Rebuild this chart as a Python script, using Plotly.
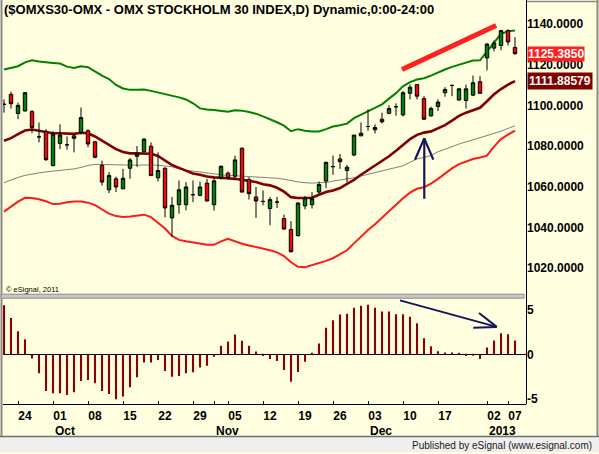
import plotly.graph_objects as go

W, H = 599, 454
BG = "#FFFFE0"
FONT = "Liberation Sans, Arial, sans-serif"

# ---------------- data ----------------
opens = [1100.5, 1105.4, 1096.0, 1097.2, 1096.9, 1084.5, 1087.2, 1070.4, 1081.3, 1080.6,
         1085.0, 1086.7, 1087.5, 1082.1, 1070.4, 1058.5, 1063.9, 1059.0, 1069.1, 1075.0,
         1077.2, 1079.9, 1064.4, 1069.1, 1044.7, 1051.2, 1051.2, 1056.1, 1055.8, 1061.8,
         1051.2, 1064.4, 1066.7, 1065.2, 1078.9, 1063.6, 1055.0, 1052.8, 1049.3, 1052.5,
         1044.4, 1039.0, 1036.0, 1050.6, 1051.2, 1057.4, 1062.8, 1069.9, 1073.7, 1068.0,
         1075.6, 1085.0, 1089.6, 1088.0, 1093.2, 1096.1, 1099.3, 1095.3, 1105.9, 1110.2,
         1103.3, 1094.8, 1099.4, 1106.2, 1109.8, 1102.6, 1102.4, 1105.0, 1111.6, 1123.3,
         1128.1, 1129.4, 1136.7, 1128.4]
highs = [1102.9, 1106.7, 1101.3, 1106.5, 1097.7, 1091.6, 1088.3, 1087.2, 1090.7, 1084.7,
         1086.3, 1098.9, 1088.3, 1082.6, 1072.8, 1067.2, 1065.0, 1068.8, 1074.1, 1080.0,
         1083.9, 1081.8, 1076.9, 1069.6, 1055.0, 1063.1, 1062.3, 1063.1, 1062.6, 1063.9,
         1064.2, 1070.4, 1067.5, 1075.3, 1079.4, 1064.7, 1059.9, 1058.2, 1055.0, 1055.0,
         1046.3, 1043.1, 1052.5, 1055.5, 1057.4, 1062.6, 1072.3, 1075.3, 1076.1, 1070.7,
         1085.4, 1091.6, 1098.0, 1090.7, 1096.4, 1100.0, 1101.0, 1107.0, 1110.2, 1110.5,
         1104.5, 1099.4, 1102.9, 1108.9, 1109.9, 1108.6, 1110.2, 1114.6, 1114.3, 1130.6,
         1131.9, 1137.1, 1137.4, 1133.5]
lows = [1096.4, 1098.4, 1093.2, 1097.0, 1086.3, 1081.8, 1072.7, 1070.0, 1078.5, 1078.2,
        1076.9, 1085.9, 1079.4, 1074.0, 1060.6, 1056.9, 1057.4, 1058.8, 1063.9, 1069.8,
        1076.9, 1065.3, 1062.6, 1045.0, 1035.5, 1046.8, 1048.4, 1052.5, 1055.3, 1052.8,
        1048.3, 1063.6, 1063.6, 1064.2, 1057.2, 1053.7, 1044.7, 1050.9, 1041.1, 1049.6,
        1039.0, 1027.8, 1035.5, 1048.9, 1049.3, 1056.6, 1059.4, 1065.9, 1068.8, 1062.3,
        1075.0, 1085.0, 1087.5, 1086.2, 1091.1, 1095.6, 1094.9, 1094.5, 1102.9, 1102.9,
        1092.8, 1094.5, 1097.2, 1104.2, 1104.5, 1102.4, 1098.4, 1104.5, 1105.9, 1117.2,
        1126.5, 1127.0, 1129.4, 1124.9]
closes = [1100.5, 1100.8, 1100.0, 1106.2, 1089.1, 1084.5, 1073.3, 1085.9, 1085.4, 1080.6,
          1083.8, 1094.0, 1081.0, 1074.5, 1062.3, 1065.5, 1059.9, 1064.2, 1073.2, 1076.1,
          1083.4, 1065.5, 1068.0, 1049.6, 1050.9, 1058.5, 1059.9, 1056.1, 1059.9, 1053.0,
          1062.9, 1070.1, 1064.2, 1073.2, 1057.4, 1056.6, 1053.0, 1052.8, 1053.7, 1052.5,
          1039.2, 1028.1, 1052.0, 1054.5, 1054.1, 1061.1, 1072.0, 1069.9, 1072.3, 1069.6,
          1085.4, 1086.3, 1089.6, 1089.1, 1091.9, 1098.4, 1099.3, 1106.2, 1108.9, 1104.5,
          1093.2, 1098.5, 1101.6, 1107.8, 1109.8, 1108.1, 1108.1, 1111.1, 1105.9, 1130.1,
          1130.6, 1136.7, 1131.1, 1125.385]

upper_band = [1117.6, 1118.4, 1119.2, 1121.1, 1122.1, 1121.5, 1121.0, 1120.8, 1120.5, 1119.0,
              1118.4, 1119.2, 1118.7, 1116.6, 1114.6, 1112.9, 1110.0, 1108.3, 1107.6, 1107.6,
              1107.8, 1107.1, 1106.3, 1105.5, 1104.9, 1103.9, 1102.9, 1101.0, 1098.5, 1097.9,
              1097.7, 1097.4, 1096.9, 1097.6, 1097.4, 1096.7, 1095.9, 1094.6, 1093.2, 1091.7,
              1090.0, 1087.3, 1088.3, 1087.5, 1087.2, 1087.2, 1088.3, 1089.6, 1090.2, 1091.0,
              1093.7, 1095.4, 1097.3, 1098.9, 1100.5, 1103.3, 1106.0, 1109.3, 1111.4, 1112.7,
              1113.3, 1114.6, 1116.2, 1117.6, 1118.9, 1119.9, 1120.8, 1122.0, 1122.1, 1126.6,
              1131.2, 1135.1, 1136.4, 1136.7]
mid_band = [1082.6, 1083.9, 1085.9, 1087.6, 1088.1, 1087.6, 1087.0, 1086.3, 1086.3, 1086.2,
            1086.0, 1086.5, 1086.3, 1084.7, 1082.6, 1080.5, 1078.5, 1077.1, 1076.4, 1076.4,
            1076.4, 1076.2, 1075.1, 1072.9, 1070.7, 1069.3, 1067.8, 1066.5, 1065.9, 1065.0,
            1064.6, 1064.5, 1064.2, 1063.9, 1063.3, 1062.9, 1062.3, 1061.2, 1060.7, 1059.5,
            1057.6, 1054.9, 1054.5, 1054.5, 1054.6, 1056.1, 1057.4, 1058.2, 1059.4, 1061.4,
            1063.4, 1065.9, 1068.1, 1070.4, 1072.7, 1075.0, 1077.7, 1080.5, 1083.4, 1085.5,
            1086.6, 1087.2, 1088.7, 1090.3, 1092.5, 1094.8, 1096.4, 1097.7, 1098.8, 1102.0,
            1105.4, 1108.0, 1110.2, 1111.88579]
lower_band = [1047.8, 1050.2, 1052.7, 1054.6, 1054.5, 1053.9, 1052.9, 1051.5, 1051.7, 1052.4,
              1052.8, 1052.8, 1052.2, 1051.0, 1048.8, 1046.8, 1045.6, 1045.2, 1045.4, 1045.9,
              1046.3, 1045.1, 1042.4, 1039.5, 1035.9, 1033.9, 1033.2, 1032.7, 1032.2, 1031.5,
              1031.5, 1033.2, 1034.4, 1033.2, 1032.0, 1031.2, 1030.5, 1029.8, 1028.8, 1027.8,
              1026.0, 1022.9, 1020.7, 1020.5, 1021.5, 1022.3, 1023.6, 1024.9, 1026.8, 1028.8,
              1032.2, 1035.6, 1038.8, 1041.6, 1044.9, 1048.0, 1051.5, 1054.4, 1057.1, 1059.0,
              1059.8, 1061.6, 1063.9, 1066.6, 1069.0, 1071.1, 1072.4, 1073.6, 1074.4, 1075.3,
              1079.7, 1083.4, 1085.6, 1087.6]
slow_ma = [1062.0, 1063.4, 1064.6, 1065.6, 1066.3, 1066.8, 1067.3, 1067.7, 1068.0, 1068.3,
           1068.8, 1069.5, 1070.5, 1071.0, 1070.9, 1070.7, 1070.6, 1070.5, 1070.5, 1070.6,
           1070.7, 1070.7, 1070.6, 1070.2, 1069.8, 1068.8, 1068.0, 1067.7, 1067.2, 1066.8,
           1066.3, 1065.9, 1065.6, 1065.4, 1065.2, 1065.0, 1064.9, 1064.7, 1064.5, 1064.2,
           1063.7, 1062.9, 1062.4, 1062.0, 1061.8, 1062.0, 1062.1, 1062.8, 1063.3, 1063.7,
           1064.4, 1065.3, 1066.1, 1066.8, 1067.8, 1068.6, 1069.5, 1070.3, 1072.0, 1073.7,
           1074.4, 1075.4, 1077.2, 1078.3, 1079.7, 1081.0, 1082.0, 1082.9, 1084.0, 1085.1,
           1086.2, 1087.3, 1088.8, 1090.0]
osc = [5.56, 4.13, 2.63, 1.73, -0.45, -2.14, -4.13, -4.40, -4.40, -4.58,
       -4.28, -3.01, -2.89, -3.27, -4.13, -4.47, -5.07, -4.77, -3.72, -2.59,
       -0.90, -0.90, -0.64, -1.88, -2.52, -2.44, -2.14, -2.03, -1.47, -1.28,
       -0.26, 0.98, 1.47, 2.25, 1.54, 0.98, 0.34, -0.19, -0.53, -0.75,
       -1.77, -3.08, -2.00, -0.83, 0.11, 1.24, 3.01, 3.87, 4.51, 4.62,
       5.30, 5.52, 5.64, 5.30, 4.85, 4.85, 4.54, 4.54, 4.28, 3.53,
       1.84, 0.94, 0.37, 0.23, 0.23, 0.11, -0.19, -0.08, -0.53, 0.79,
       1.58, 2.40, 2.29, 1.58]

# axis ticks / labels (bar index positions)
day_tick_idx = [3, 8, 13, 18, 23, 28, 33, 38, 43, 48, 53, 58, 63, 70, 73]
day_tick_text = ["24", "01", "08", "15", "22", "29", "05", "12", "19", "26", "03", "10", "17", "02", "07"]
week_mark_idx = [2, 7, 12, 17, 22, 27, 30, 32, 37, 42, 47, 52, 57, 62, 69, 72]
month_idx = [8, 31, 53, 70]
month_text = ["Oct", "Nov", "Dec", "2013"]
price_ticks = [1020, 1040, 1060, 1080, 1100, 1120, 1140]
osc_ticks = [-5, 0, 5]

# drawn annotations (bar index, value)
trend_line = [(56.86, 1117.6), (70.3, 1139.2)]
up_arrow = [(60.04, 1054.1), (60.04, 1083.8), (58.71, 1073.3), (61.33, 1073.3)]
down_arrow = [(56.57, 6.12), (70.39, 3.12), (67.86, 4.70), (67.04, 3.01)]

# ---------------- geometry ----------------
def px_x(p):
    return p / W

def px_y(p):
    return 1 - p / H

x = list(range(len(closes)))
XR = [-1 / 7, 522 / 7]
PX_PER_PT = 2.045
PRICE_RANGE = [1140 - 271 / PX_PER_PT, 1140 + 24 / PX_PER_PT]
OSC_PX = 8.87
OSC_RANGE = [(356 - 406) / OSC_PX, (356 - 300) / OSC_PX]

fig = go.Figure()
fig.add_trace(go.Scatter(x=x, y=slow_ma, mode="lines", line=dict(color="#808080", width=1)))
fig.add_trace(go.Scatter(x=x, y=upper_band, mode="lines", line=dict(color="#008000", width=2)))
fig.add_trace(go.Scatter(x=x, y=lower_band, mode="lines", line=dict(color="#ff1a1a", width=2)))
fig.add_trace(go.Scatter(x=x, y=mid_band, mode="lines", line=dict(color="#800000", width=2.6)))
fig.add_trace(go.Candlestick(
    x=x, open=opens, high=highs, low=lows, close=closes, xaxis="x", yaxis="y3",
    increasing=dict(fillcolor="#008000", line=dict(color="#000000", width=1)),
    decreasing=dict(fillcolor="#ff0000", line=dict(color="#000000", width=1)),
    whiskerwidth=0))
fig.add_trace(go.Bar(x=x, y=osc, xaxis="x2", yaxis="y2", width=0.3,
                     marker=dict(color="#8b0000", line=dict(width=0))))
fig.add_trace(go.Scatter(x=[], y=[], xaxis="x3", yaxis="y2"))

XD = [px_x(3), px_x(526)]
PD = [px_y(295), px_y(0)]
LD = [px_y(406), px_y(300)]
tickfont = dict(family=FONT, size=12, color="#000000", weight="bold")

fig.update_layout(
    width=W, height=H, margin=dict(l=0, r=0, t=0, b=0),
    paper_bgcolor=BG, plot_bgcolor=BG, showlegend=False,
    xaxis=dict(domain=XD, range=XR, anchor="y", visible=False,
               rangeslider=dict(visible=False), showgrid=False),
    yaxis=dict(domain=PD, range=PRICE_RANGE, anchor="x", side="right",
               tickvals=price_ticks, ticktext=[f"{v:.4f}" for v in price_ticks],
               showgrid=False, zeroline=False, showline=False, ticks="",
               tickfont=tickfont),
    yaxis3=dict(domain=PD, range=PRICE_RANGE, overlaying="y", anchor="x", visible=False),
    xaxis2=dict(domain=XD, range=XR, anchor="y2", tickvals=day_tick_idx, ticktext=day_tick_text,
                showgrid=False, zeroline=False, showline=True, linecolor="#000000", linewidth=1,
                ticks="", tickfont=tickfont),
    xaxis3=dict(domain=XD, range=XR, anchor="y2", overlaying="x2", tickvals=week_mark_idx,
                ticks="inside", ticklen=3, tickcolor="#000000", tickwidth=1,
                showticklabels=False, showgrid=False, zeroline=False, showline=False),
    yaxis2=dict(domain=LD, range=OSC_RANGE, anchor="x2", side="right",
                tickvals=osc_ticks, ticktext=[str(v) for v in osc_ticks],
                showgrid=False, zeroline=True, zerolinecolor="#000000", zerolinewidth=1,
                showline=False, ticks="", tickfont=tickfont),
)

shapes = []
# window frame pieces
shapes.append(dict(type="rect", xref="paper", yref="paper", x0=0, x1=1, y0=0, y1=px_y(438),
                   fillcolor="#efefef", line=dict(width=0), layer="below"))
shapes.append(dict(type="line", xref="paper", yref="paper", x0=0, x1=1, y0=px_y(438.5), y1=px_y(438.5),
                   line=dict(color="#707070", width=1.5)))
shapes.append(dict(type="line", xref="paper", yref="paper", x0=px_x(1.5), x1=px_x(1.5), y0=px_y(438), y1=1,
                   line=dict(color="#8a8a8a", width=2)))
shapes.append(dict(type="line", xref="paper", yref="paper", x0=px_x(597.5), x1=px_x(597.5), y0=px_y(438), y1=1,
                   line=dict(color="#8a8a8a", width=2)))
shapes.append(dict(type="line", xref="paper", yref="paper", x0=px_x(526), x1=px_x(598), y0=px_y(1.5), y1=px_y(1.5),
                   line=dict(color="#8a8a8a", width=1.5)))
shapes.append(dict(type="line", xref="paper", yref="paper", x0=px_x(526.5), x1=px_x(526.5), y0=px_y(406), y1=1,
                   line=dict(color="#000000", width=1)))
shapes.append(dict(type="rect", xref="paper", yref="paper", x0=px_x(1), x1=px_x(524), y0=px_y(299.5), y1=px_y(295.5),
                   fillcolor="#c8c8c8", line=dict(color="#8c8c8c", width=1)))
# hand-drawn marks
shapes.append(dict(type="line", xref="x", yref="y", x0=trend_line[0][0], y0=trend_line[0][1],
                   x1=trend_line[1][0], y1=trend_line[1][1], line=dict(color="#ff2020", width=5)))
NAVY = "#15155e"
tip = up_arrow[1]
for a, b in [(up_arrow[0], tip), (up_arrow[2], tip), (up_arrow[3], tip)]:
    shapes.append(dict(type="line", xref="x", yref="y", x0=a[0], y0=a[1], x1=b[0], y1=b[1],
                       line=dict(color=NAVY, width=2.2)))
tip2 = down_arrow[1]
for a, b in [(down_arrow[0], tip2), (down_arrow[2], tip2), (down_arrow[3], tip2)]:
    shapes.append(dict(type="line", xref="x2", yref="y2", x0=a[0], y0=a[1], x1=b[0], y1=b[1],
                       line=dict(color=NAVY, width=2)))
fig.update_layout(shapes=shapes)

ann = []
ann.append(dict(text="($OMXS30-OMX - OMX STOCKHOLM 30 INDEX,D) Dynamic,0:00-24:00",
                xref="paper", yref="paper", x=px_x(2), y=px_y(10), xanchor="left", yanchor="middle",
                showarrow=False, font=dict(family=FONT, size=13, color="#000000", weight="bold")))
ann.append(dict(text="© eSignal, 2011", xref="paper", yref="paper", x=px_x(4), y=px_y(291),
                xanchor="left", yanchor="middle", showarrow=False,
                font=dict(family=FONT, size=7.5, color="#000000")))
ann.append(dict(text="Published by eSignal (www.esignal.com)", xref="paper", yref="paper",
                x=px_x(594), y=px_y(447), xanchor="right", yanchor="middle", showarrow=False,
                font=dict(family=FONT, size=10, color="#202020")))
for i, t in zip(month_idx, month_text):
    ann.append(dict(text=t, xref="x2", yref="paper", x=i, y=px_y(433), xanchor="left", yanchor="middle",
                    xshift=-7, showarrow=False, font=tickfont))
ann.append(dict(text=f"{closes[-1]:.4f}", xref="paper", yref="y", x=px_x(526.5), y=closes[-1],
                xanchor="left", yanchor="middle", showarrow=False, bgcolor="#ff2020", borderpad=0,
                font=dict(family=FONT, size=12, color="#ffffff", weight="bold")))
ann.append(dict(text=f"{mid_band[-1]:.5f}", xref="paper", yref="y", x=px_x(526.5), y=mid_band[-1],
                xanchor="left", yanchor="middle", showarrow=False, bgcolor="#800000", borderpad=1,
                font=dict(family=FONT, size=12, color="#ffffff", weight="bold")))
fig.update_layout(annotations=ann)

fig.write_html("out.html", config={"displayModeBar": False},
               post_script="document.body.style.margin='0';document.body.style.padding='0';"
                           "document.documentElement.style.overflow='hidden';")
